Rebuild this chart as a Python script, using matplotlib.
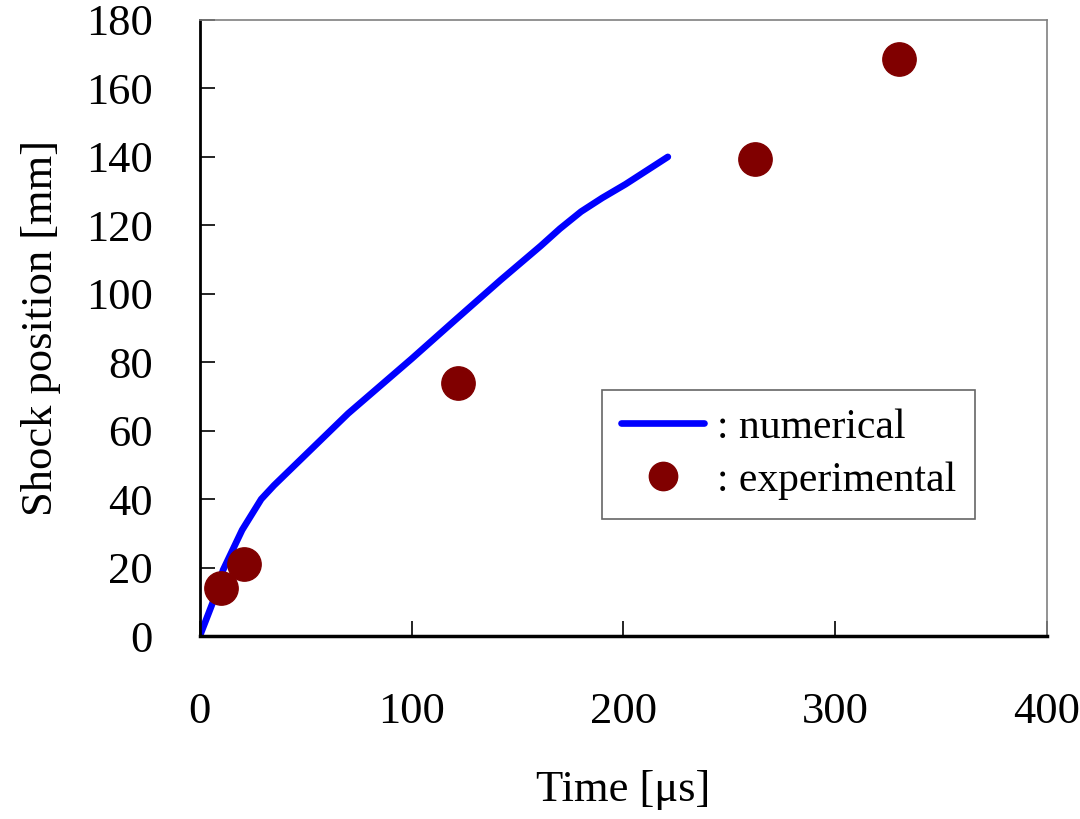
import numpy as np
import matplotlib.pyplot as plt

# dati
t_num = [0, 6, 11, 20, 25, 29, 35, 46, 60, 70, 85, 100, 120, 142, 161, 170, 180, 190, 201, 221]
x_num = [0, 9.6, 19.3, 31, 36, 40, 44, 50.6, 59, 65, 73, 81, 92, 104, 114, 119, 124, 128, 132, 140]

t_exp = [10, 21, 122, 262, 330]
x_exp = [14, 21, 74, 139.5, 168.5]

plt.rcParams['font.family'] = ['Liberation Serif', 'DejaVu Serif']

fig = plt.figure(figsize=(10.8, 8.19), dpi=100)
ax = fig.add_axes([0.185, 0.2234, 0.7844, 0.7522])

ax.plot(t_num, x_num, color='#0000ff', linewidth=4.8, solid_capstyle='round', label=': numerical')
ax.plot(t_exp, x_exp, 'o', color='#800000', markersize=24, linestyle='none', label=': experimental')

ax.set_xlim(0, 400)
ax.set_ylim(0, 180)
ax.set_xticks([0, 100, 200, 300, 400])
ax.set_yticks(np.arange(0, 181, 20))
ax.tick_params(axis='both', direction='in', length=11, width=1.2, labelsize=32)
ax.tick_params(axis='x', pad=40)
ax.tick_params(axis='y', pad=34)

ax.spines['left'].set_linewidth(2)
ax.spines['bottom'].set_linewidth(2.5)
ax.spines['top'].set_color('#808080')
ax.spines['right'].set_color('#808080')
ax.spines['top'].set_linewidth(1.2)
ax.spines['right'].set_linewidth(1.2)

ax.set_xlabel('Time [μs]', fontsize=32, labelpad=28)
ax.set_ylabel('Shock position [mm]', fontsize=32, labelpad=18)

leg = ax.legend(loc='upper left', bbox_to_anchor=(0.475, 0.40), fontsize=30, frameon=True,
                fancybox=False, edgecolor='#404040', markerscale=0.85, handlelength=2.0,
                handletextpad=0.3, borderpad=0.45, labelspacing=0.35, borderaxespad=0)
leg.get_frame().set_linewidth(1.2)

plt.savefig('out.png')
